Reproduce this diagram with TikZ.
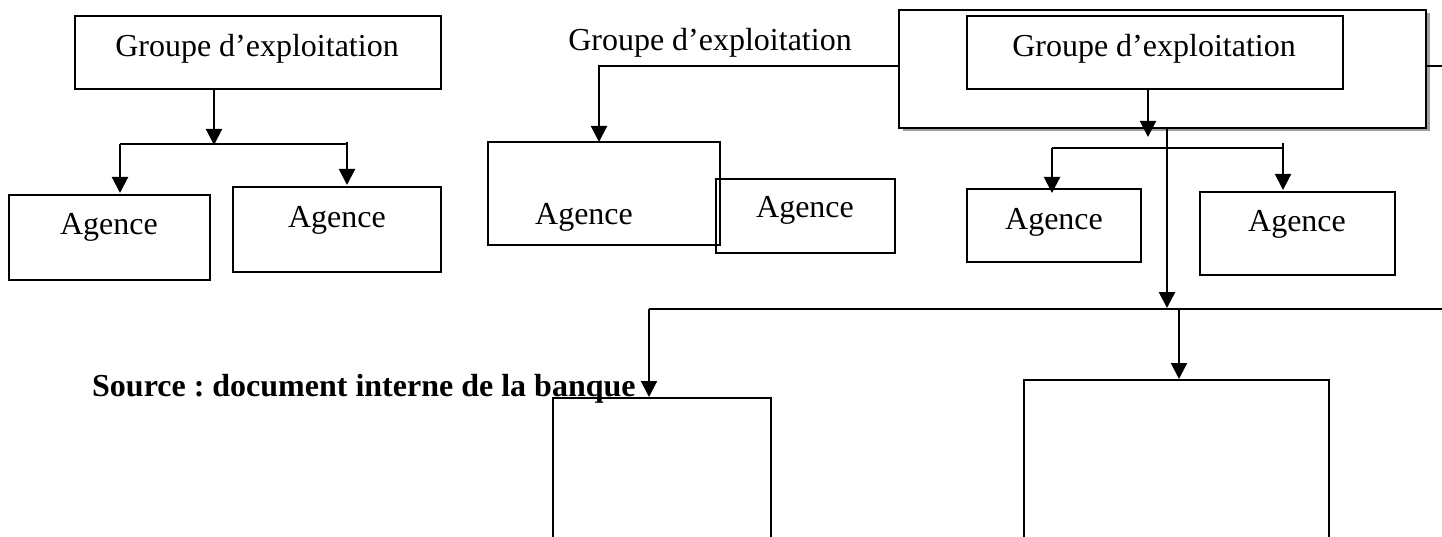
\documentclass[tikz,border=0pt]{standalone}
\usepackage{fontspec}
\setmainfont{Liberation Serif}
\usetikzlibrary{arrows.meta,shadows}
\frenchspacing
\tikzset{
  box/.style={draw, line width=1.7pt, inner sep=0pt, outer sep=0pt},
  lbl/.style={font=\fontsize{32}{38}\selectfont, inner sep=0pt, anchor=base},
  conn/.style={line width=2.1pt},
  thin conn/.style={line width=1.6pt},
  arr/.style={conn, -{Triangle[length=16pt,width=16pt]}},
}
\begin{document}
\begin{tikzpicture}[x=1pt,y=-1pt]
\useasboundingbox (0,0) rectangle (1442,537);
\clip (0,0) rectangle (1442,537);

% ---- first organisation chart ----
\node[box, minimum width=366pt, minimum height=73pt] (g1) at (258,52.5) {};
\node[lbl] (g1t) at (257,57) {Groupe d’exploitation};
\node[box, minimum width=201pt, minimum height=85pt] (a1) at (109.5,237.5) {};
\node[lbl] (a1t) at (109,235) {Agence};
\node[box, minimum width=208pt, minimum height=85pt] (a2) at (337,229.5) {};
\node[lbl] (a2t) at (337,228) {Agence};

\coordinate (j1) at (214,145);
\coordinate (l1) at (120,144);
\coordinate (r1) at (347,144);
\coordinate (r1top) at (347,142);
\draw[arr] (g1.south -| j1) -- (j1);
\draw[conn] (l1) -- (r1);
\draw[arr] (l1) -- ([yshift=2pt]a1.north -| l1);
\draw[arr] (r1top) -- ([yshift=2pt]a2.north -| r1);

% ---- second organisation chart ----
\node[lbl] (gm) at (710,51) {Groupe d’exploitation};
\node[box, minimum width=232pt, minimum height=103pt] (aA) at (604,193.5) {};
\node[lbl] (aAt) at (584,225) {Agence};
\node[box, minimum width=179pt, minimum height=74pt] (aB) at (805.5,216) {};
\node[lbl] (aBt) at (805,218) {Agence};

% outer frame with its shadow
\node[box, fill=white, minimum width=527pt, minimum height=118pt,
      drop shadow={shadow xshift=3.5pt, shadow yshift=-3.5pt, fill=gray!75, opacity=1}]
      (big) at (1162.5,69) {};
\node[box, minimum width=376pt, minimum height=73pt] (gi) at (1155,52.5) {};
\node[lbl] (git) at (1154,57) {Groupe d’exploitation};

\coordinate (m1) at (599,66);
\coordinate (edgeR) at (1442,66);
\draw[arr] (big.west |- m1) -- (m1) -- (aA.north -| m1);
\draw[thin conn] (big.east |- m1) -- (edgeR);

% ---- third organisation chart ----
\node[box, minimum width=174pt, minimum height=73pt] (aC) at (1054,225.5) {};
\node[lbl] (aCt) at (1054,230) {Agence};
\node[box, minimum width=195pt, minimum height=83pt] (aD) at (1297.5,233.5) {};
\node[lbl] (aDt) at (1297,232) {Agence};

\coordinate (t3) at (1148,137);
\coordinate (l3) at (1052,148);
\coordinate (r3) at (1283,148);
\coordinate (r3top) at (1283,143);
\draw[arr] (gi.south -| t3) -- (t3);
\draw[conn] (l3) -- (r3);
\draw[arr] (l3) -- ([yshift=-4pt]aC.north -| l3);
\draw[arr] (r3top) -- ([yshift=2pt]aD.north -| r3);

% ---- lower level ----
\node[box, minimum width=218pt, minimum height=200pt] (bL) at (662,498) {};
\node[box, minimum width=305pt, minimum height=220pt] (bR) at (1176.5,490) {};

\coordinate (v) at (1167,308);
\coordinate (h0) at (649,309);
\coordinate (h1) at (1442,309);
\coordinate (hR) at (1179,309);
\draw[arr, line width=2.6pt] (big.south -| v) -- (v);
\draw[conn] (h0) -- (h1);
\draw[arr] (h0) -- ([yshift=1pt]bL.north -| h0);
\draw[arr] (hR) -- ([yshift=1pt]bR.north -| hR);

% ---- source line ----
\node[font=\fontsize{32}{38}\selectfont\bfseries, inner sep=0pt, anchor=base west]
      (src) at (92,396) {Source : document interne de la banque};
\end{tikzpicture}
\end{document}
